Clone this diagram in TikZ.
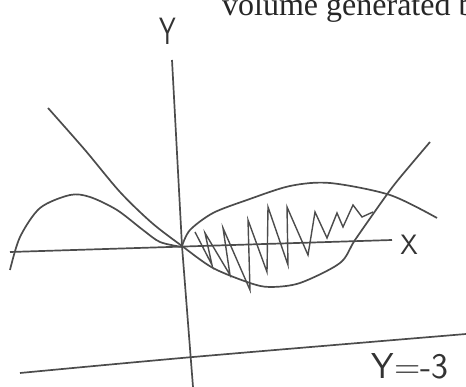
\documentclass[tikz,border=0pt]{standalone}
\usepackage{fontspec}
\newfontfamily\bookfont{Liberation Serif}
\begin{document}
\begin{tikzpicture}[x=1pt,y=-1pt,pencil/.style={draw=black!70,line width=1.7pt},
  hand/.style={inner sep=0,text=black!80,font=\sffamily\fontsize{#1}{#1}\selectfont}]
\useasboundingbox (0,0) rectangle (466,387);
\clip (0,0) rectangle (466,387);
\node[anchor=base west,inner sep=0,text=black!85,font=\bookfont\fontsize{32}{32}\selectfont] (title) at (222,16) {volume generated b};
\draw[pencil] (172,60) -- (182,246) -- (193,387); \node[hand=38,xscale=0.7] (ylab) at (168,31) {Y};
\draw[pencil] (10,252) -- (392,240); \node[hand=28] (xlab) at (409,245) {X};
\draw[pencil] plot[smooth] coordinates{(20,373)(193,357)(466,334)}; \node[hand=36] (line) at (410,366) {Y=-3};
\draw[pencil] plot[smooth] coordinates{(48,108)(85,150)(120,192)(152,223)(182,246)(213,268)(250,283)(270,287)(300,283)(340,263)(355,240)(383,200)(398,180)(430,142)};
\draw[pencil] plot[smooth] coordinates{(10,270)(20,237)(40,208)(70,195)(90,197)(117,210)(143,230)(160,242)(182,247)};
\draw[pencil] plot[smooth] coordinates{(182,246)(190,230)(213,213)(247,200)(290,186)(330,183)(390,195)(437,218)};
\draw[pencil,line width=1.4pt] (195,232) -- (212,265) -- (205,233) -- (230,275) -- (223,228) -- (250,290) -- (248,220) -- (267,272) -- (268,207) -- (288,265) -- (287,207) -- (308,255) -- (315,212) -- (327,238) -- (337,213) -- (343,227) -- (353,205) -- (362,217) -- (373,212);
\end{tikzpicture}
\end{document}
